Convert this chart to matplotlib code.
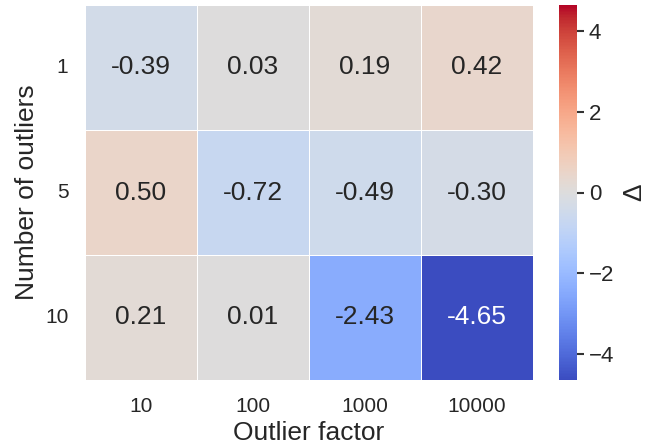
import numpy as np
import pandas as pd
import seaborn as sns
import matplotlib
matplotlib.use("Agg")
import matplotlib.pyplot as plt

factors = ["10", "100", "1000", "10000"]
n_outliers = ["1", "5", "10"]
delta_1 = [-0.39, 0.03, 0.19, 0.42]
delta_5 = [0.50, -0.72, -0.49, -0.30]
delta_10 = [0.21, 0.01, -2.43, -4.65]

df = pd.DataFrame([delta_1, delta_5, delta_10], index=n_outliers, columns=factors)

sns.set_theme(style="white")
plt.rcParams['font.family'] = ['Liberation Sans', 'DejaVu Sans']

vmax = np.abs(df.values).max()

W, H = 646, 445
fig = plt.figure(figsize=(6.46, 4.45), dpi=100)
ax = fig.add_axes([85 / W, (H - 380) / H, 448 / W, 375 / H])
cax = fig.add_axes([559 / W, (H - 380) / H, 18 / W, 375 / H])

hm = sns.heatmap(df, ax=ax, cbar_ax=cax, cmap="coolwarm", vmin=-vmax, vmax=vmax, center=0,
                 annot=True, fmt=".2f", linewidths=0.6, linecolor="white",
                 annot_kws={"size": 19})
ax.set_xlabel("Outlier factor", fontsize=19)
ax.set_ylabel("Number of outliers", fontsize=19)
ax.tick_params(axis="both", labelsize=15, pad=12, length=0)
plt.setp(ax.get_yticklabels(), rotation=0)

cbar = hm.collections[0].colorbar
cbar.ax.tick_params(labelsize=16, length=5, width=1.5, color="#333333", left=False, right=True)
cbar.set_label("Δ", fontsize=19, rotation=90, labelpad=6)
cbar.outline.set_visible(False)

fig.savefig("out.png", dpi=100)
